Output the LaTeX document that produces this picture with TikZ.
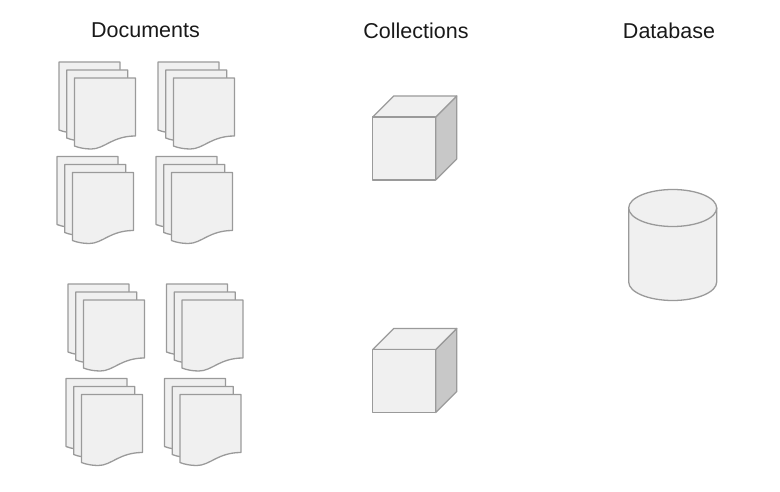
\documentclass[tikz,border=0pt]{standalone}
\usepackage{fontspec}
\setmainfont{Liberation Sans}
\definecolor{sheetfill}{HTML}{F0F0F0}
\definecolor{sheetline}{HTML}{9A9A9A}
\definecolor{cubeside}{HTML}{C8C8C8}
\tikzset{
    shapeline/.style={draw=sheetline, fill=sheetfill, line width=1.3pt, line join=round},
    heading/.style={font=\fontsize{21.5}{24}\selectfont, text=black!90},
    pics/sheet/.style={code={
        \path[shapeline] (0,0) -- (61,0) -- (61,58)
            .. controls (38,58) and (30,71) .. (17,71)
            .. controls (11,71) and (5,70) .. (0,68) -- cycle;
    }},
    pics/docstack/.style={code={
        \pic at (0,0) {sheet};
        \pic at (7.7,8) {sheet};
        \pic at (15.4,16) {sheet};
    }},
    pics/box/.style={code={
        \path[shapeline, fill=cubeside] (63,0) -- (84,-21) -- (84,42) -- (63,63) -- cycle;
        \path[shapeline] (0,0) -- (21,-21) -- (84,-21) -- (63,0) -- cycle;
        \path[shapeline] (0,0) rectangle (63,63);
    }}
}
\begin{document}
\begin{tikzpicture}[x=1pt,y=-1pt]
\useasboundingbox (0,0) rectangle (780,492);

\node[heading] (documents) at (145.5,30) {Documents};
\node[heading] (collections) at (416,30.5) {Collections};
\node[heading] (database) at (669,30.5) {Database};

\pic at (59,62) {docstack};
\pic at (158,62) {docstack};
\pic at (57,156.5) {docstack};
\pic at (156,156.5) {docstack};

\pic at (68,284) {docstack};
\pic at (166.5,284) {docstack};
\pic at (66,378.5) {docstack};
\pic at (164.5,378.5) {docstack};

\pic at (372.7,117) {box};
\pic at (372.7,349.5) {box};

% database
\path[shapeline] (628.7,208) -- (628.7,282)
    arc[x radius=44, y radius=18.5, start angle=180, end angle=0]
    -- (716.7,208) -- cycle;
\path[shapeline] (672.7,208) ellipse[x radius=44, y radius=18.5];
\end{tikzpicture}
\end{document}
